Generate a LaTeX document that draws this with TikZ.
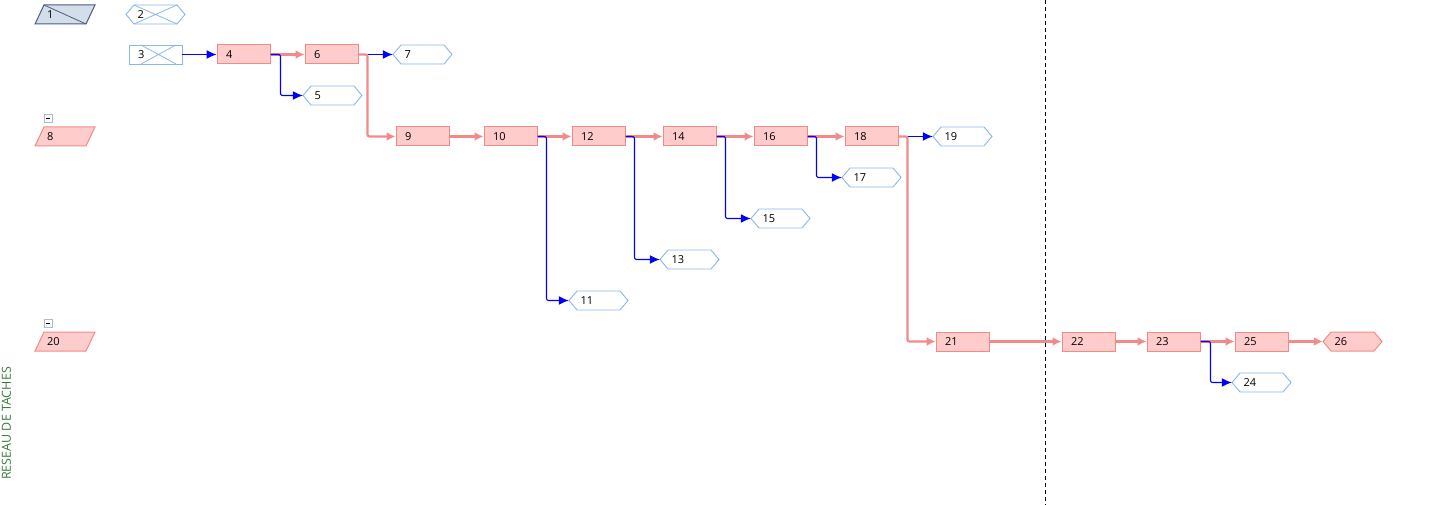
\documentclass[tikz,border=0pt]{standalone}
\usepackage{fontspec}
\setmainfont{Open Sans}
\usetikzlibrary{arrows.meta,calc}
\definecolor{redF}{HTML}{FFCCCC}
\definecolor{redS}{HTML}{F28A8A}
\definecolor{lblue}{HTML}{8AB8E8}
\definecolor{arrB}{HTML}{0000FF}
\definecolor{grnT}{HTML}{3C7A3C}
\definecolor{sumF}{HTML}{D3DEEA}
\definecolor{sumS}{HTML}{4A5E7E}
\definecolor{minS}{HTML}{A8BCD0}
\newcommand\hexat[5]{% name, left x, top y, text, style
  \draw[#5] (#2,#3+9.5) -- (#2+8,#3) -- (#2+51,#3) -- (#2+59,#3+9.5) -- (#2+51,#3+19) -- (#2+8,#3+19) -- cycle;
  \node[hexlabel] (#1) at (#2+29.5,#3+9.5) {#4};
}
\newcommand\parat[5]{% name, left x, top y, text, style
  \draw[#5] (#2+9,#3) -- (#2+60,#3) -- (#2+51,#3+19) -- (#2,#3+19) -- cycle;
  \node[hexlabel] (#1) at (#2+30,#3+9.5) {#4};
}
\newcommand\minusat[2]{%
  \draw[minS, fill=white, line width=0.8pt] (#1,#2) rectangle (#1+8,#2+8);
  \draw[black, line width=0.8pt] (#1+2,#2+4) -- (#1+6,#2+4);
}
\begin{document}
\begin{tikzpicture}[x=1pt,y=-1pt, font=\fontsize{11}{13}\selectfont,
  task/.style={rectangle, draw=redS, fill=redF, line width=1pt, minimum width=53pt, minimum height=19pt, text width=35pt, align=left, inner xsep=9pt, inner ysep=0pt},
  hexlabel/.style={rectangle, minimum width=59pt, minimum height=19pt, text width=36pt, align=left, inner xsep=11.5pt, inner ysep=0pt},
  hexblue/.style={draw=lblue, fill=white, line width=0.9pt},
  hexred/.style={draw=redS, fill=redF, line width=1pt},
  bl/.style={draw=arrB, line width=1.1pt, rounded corners=2pt, -{Latex[length=10pt,width=9pt]}},
  rl/.style={draw=redS, line width=2.2pt, rounded corners=2pt, -{Latex[length=9pt,width=9pt]}}
]
\useasboundingbox (0,0) rectangle (1436,505);

% row 1
\parat{n1}{35}{5}{1}{draw=sumS, fill=sumF, line width=1pt}
\draw[sumS, line width=0.8pt] (44,5) -- (86,24);
\hexat{n2}{126}{5}{2}{hexblue}
\draw[lblue, line width=0.8pt] (134,5) -- (177,24) (134,24) -- (177,5);

% row 2
\node[rectangle, draw=lblue, line width=0.9pt, minimum width=53pt, minimum height=19pt, text width=35pt, align=left, inner xsep=9pt, inner ysep=0pt] (n3) at (155.5,54.5) {3};
\draw[lblue, line width=0.8pt] (141,45) -- (176,64) (141,64) -- (176,45);
\node[task] (n4) at (243.5,54.5) {4};
\node[task] (n6) at (331.5,54.5) {6};
\hexat{n7}{393}{45}{7}{hexblue}
\hexat{n5}{303}{86}{5}{hexblue}

% row 8
\minusat{44}{114}
\parat{n8}{35}{127}{8}{hexred}
\node[task] (n9) at (422.5,136.5) {9};
\node[task] (n10) at (510.5,136.5) {10};
\node[task] (n12) at (598.5,136.5) {12};
\node[task] (n14) at (689.5,136.5) {14};
\node[task] (n16) at (780.5,136.5) {16};
\node[task] (n18) at (871.5,136.5) {18};
\hexat{n19}{933}{127}{19}{hexblue}
\hexat{n17}{842}{168}{17}{hexblue}
\hexat{n15}{751}{209}{15}{hexblue}
\hexat{n13}{660}{250}{13}{hexblue}
\hexat{n11}{569}{291}{11}{hexblue}

% row 20
\minusat{44}{319}
\parat{n20}{35}{332}{20}{hexred}
\node[task] (n21) at (962.5,341.5) {21};
\node[task] (n22) at (1088.5,341.5) {22};
\node[task] (n23) at (1173.5,341.5) {23};
\node[task] (n25) at (1261.5,341.5) {25};
\hexat{n26}{1323}{332}{26}{hexred}
\hexat{n24}{1232}{373}{24}{hexblue}

% connectors
\draw[bl] (n3.east) -- (n4.west);
\draw[rl] (n4.east) -- (n6.west);
\draw[bl] (n4.east) -- ++(10,0) |- (n5.west);
\draw[bl] (n6.east) -- (n7.west);
\draw[rl] (n6.east) -- ++(9,0) |- (n9.west);
\draw[rl] (n9.east) -- (n10.west);
\draw[rl] (n10.east) -- (n12.west);
\draw[rl] (n12.east) -- (n14.west);
\draw[rl] (n14.east) -- (n16.west);
\draw[rl] (n16.east) -- (n18.west);
\draw[bl] (n10.east) -- ++(9,0) |- (n11.west);
\draw[bl] (n12.east) -- ++(9,0) |- (n13.west);
\draw[bl] (n14.east) -- ++(9,0) |- (n15.west);
\draw[bl] (n16.east) -- ++(9,0) |- (n17.west);
\draw[bl] (n18.east) -- (n19.west);
\draw[rl] (n18.east) -- ++(9,0) |- (n21.west);
\draw[rl] (n21.east) -- (n22.west);
\draw[rl] (n22.east) -- (n23.west);
\draw[rl] (n23.east) -- (n25.west);
\draw[rl] (n25.east) -- (n26.west);
\draw[bl] (n23.east) -- ++(10,0) |- (n24.west);

% divider
\draw[black, line width=1pt, dash pattern=on 4pt off 3pt] (1045,0) -- (1045,505);

% side title
\node[rotate=90, anchor=west, text=grnT, inner sep=0pt, font=\fontsize{12.5}{14}\selectfont] (title) at (6.5,480) {RESEAU DE TACHES};
\end{tikzpicture}
\end{document}
